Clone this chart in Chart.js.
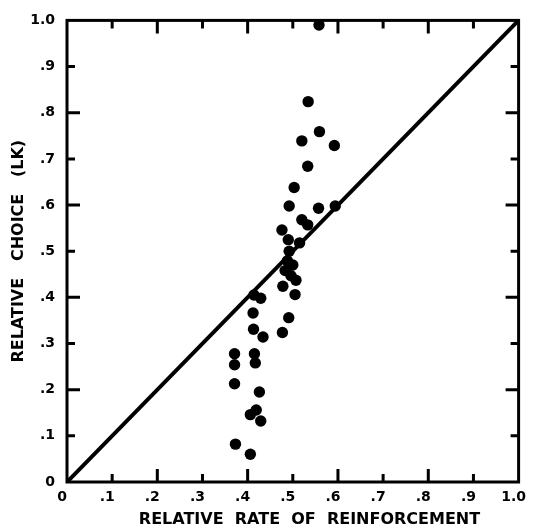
<!DOCTYPE html>
<html>
<head>
<meta charset="utf-8">
<script src="https://cdn.jsdelivr.net/npm/chart.js@4.4.1/dist/chart.umd.min.js"></script>
<style>
  html, body { margin: 0; padding: 0; background: #fff; }
</style>
</head>
<body>
<canvas id="chart" width="538" height="532"></canvas>
<script>
// relative rate of reinforcement (x) and relative choice (y)
const rateX = [
  0.558, 0.534, 0.559, 0.520, 0.592, 0.533, 0.503, 0.492, 0.557, 0.594,
  0.520, 0.533, 0.476, 0.490, 0.515, 0.492, 0.488, 0.500, 0.483, 0.496,
  0.507, 0.478, 0.505, 0.414, 0.429, 0.412, 0.491, 0.413, 0.434, 0.477,
  0.371, 0.415, 0.371, 0.417, 0.371, 0.426, 0.419, 0.406, 0.429, 0.373,
  0.406
];
const choiceY = [
  0.990, 0.824, 0.759, 0.739, 0.729, 0.684, 0.638, 0.598, 0.593, 0.598,
  0.568, 0.557, 0.546, 0.525, 0.518, 0.500, 0.479, 0.470, 0.458, 0.447,
  0.437, 0.424, 0.406, 0.405, 0.398, 0.366, 0.356, 0.331, 0.314, 0.324,
  0.278, 0.278, 0.254, 0.258, 0.213, 0.195, 0.156, 0.146, 0.132, 0.082,
  0.060
];
// matching line (equal choice and reinforcement)
const diagonalX = [0, 1];
const diagonalY = [0, 1];

const tickValues = [0, 0.1, 0.2, 0.3, 0.4, 0.5, 0.6, 0.7, 0.8, 0.9, 1.0];
const tickLabels = ['0', '.1', '.2', '.3', '.4', '.5', '.6', '.7', '.8', '.9', '1.0'];

const labelFont = { family: '"DejaVu Sans", sans-serif', size: 14, weight: 'bold' };
const titleFont = { family: '"DejaVu Sans", sans-serif', size: 16, weight: 'bold' };

// box round the plot with short inward ticks, long ones on every .2
const framePlugin = {
  id: 'frame',
  afterDatasetsDraw(chart) {
    const { ctx, chartArea: a, scales: { x, y } } = chart;
    ctx.save();
    ctx.strokeStyle = '#000';
    ctx.lineWidth = 3;
    ctx.strokeRect(a.left, a.top, a.right - a.left, a.bottom - a.top);
    tickValues.slice(1, -1).forEach((v, i) => {
      const len = i % 2 ? 13 : 8;
      const px = x.getPixelForValue(v);
      const py = y.getPixelForValue(v);
      ctx.beginPath();
      ctx.moveTo(px, a.bottom); ctx.lineTo(px, a.bottom - len);
      ctx.moveTo(px, a.top); ctx.lineTo(px, a.top + len);
      ctx.moveTo(a.left, py); ctx.lineTo(a.left + len, py);
      ctx.moveTo(a.right, py); ctx.lineTo(a.right - len, py);
      ctx.stroke();
    });
    ctx.restore();
  }
};

const setTicks = scale => { scale.ticks = tickValues.map(v => ({ value: v })); };

new Chart(document.getElementById('chart'), {
  type: 'scatter',
  data: {
    datasets: [
      {
        data: rateX.map((v, i) => ({ x: v, y: choiceY[i] })),
        backgroundColor: '#000',
        borderWidth: 0,
        pointRadius: 5.7,
        clip: false
      },
      {
        type: 'line',
        data: diagonalX.map((v, i) => ({ x: v, y: diagonalY[i] })),
        borderColor: '#000',
        borderWidth: 4,
        pointRadius: 0,
        fill: false
      }
    ]
  },
  options: {
    responsive: false,
    animation: false,
    devicePixelRatio: 1,
    layout: { padding: { top: 19, right: 12, left: 0, bottom: 0 } },
    plugins: { legend: { display: false }, tooltip: { enabled: false } },
    scales: {
      x: {
        type: 'linear', min: 0, max: 1,
        afterBuildTicks: setTicks,
        afterFit: s => { s.height = 50; },
        grid: { display: false, drawTicks: false },
        border: { display: false },
        ticks: {
          callback: (v, i) => tickLabels[i],
          font: labelFont, color: '#000', padding: 7,
          labelOffset: -5, maxRotation: 0, autoSkip: false
        },
        title: {
          display: true, text: '      RELATIVE  RATE  OF  REINFORCEMENT',
          font: titleFont, color: '#000', padding: { top: 0, bottom: 3 }
        }
      },
      y: {
        type: 'linear', min: 0, max: 1,
        afterBuildTicks: setTicks,
        afterFit: s => { s.width = 67; },
        grid: { display: false, drawTicks: false },
        border: { display: false },
        ticks: {
          callback: (v, i) => tickLabels[i],
          font: labelFont, color: '#000', padding: 12, autoSkip: false
        },
        title: {
          display: true, text: 'RELATIVE   CHOICE   (LK)',
          font: titleFont, color: '#000', padding: { top: 9, bottom: 0 }
        }
      }
    }
  },
  plugins: [framePlugin]
});
</script>
</body>
</html>
